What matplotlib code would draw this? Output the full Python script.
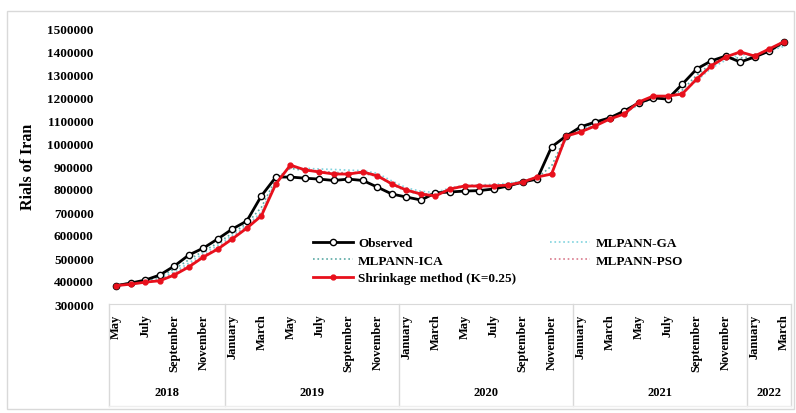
import numpy as np
import matplotlib
matplotlib.use("Agg")
import matplotlib.pyplot as plt
from matplotlib.patches import Rectangle

# Datos (mayo 2018 - marzo 2022)
meses = ["May", "June", "July", "August", "September", "October", "November", "December",
         "January", "February", "March", "April", "May", "June", "July", "August",
         "September", "October", "November", "December",
         "January", "February", "March", "April", "May", "June", "July", "August",
         "September", "October", "November", "December",
         "January", "February", "March", "April", "May", "June", "July", "August",
         "September", "October", "November", "December",
         "January", "February", "March"]
anios = ["2018", "2019", "2020", "2021", "2022"]
meses_por_anio = [8, 12, 12, 12, 3]

observed = [380000, 391000, 404000, 426000, 465000, 513000, 543000, 583000,
            626000, 661000, 770000, 852000, 852000, 847000, 843000, 837000, 843000, 837000, 808000, 778000,
            765000, 752000, 783000, 787000, 791000, 793000, 800000, 813000, 830000, 843000, 983000, 1030000,
            1070000, 1091000, 1109000, 1139000, 1174000, 1196000, 1191000, 1255000, 1322000, 1357000, 1378000, 1352000,
            1374000, 1400000, 1440000]

mlpann_ga = [380000, 388000, 398000, 410000, 440000, 478000, 520000, 555000,
             598000, 640000, 700000, 835000, 895000, 890000, 887000, 885000, 882000, 880000, 868000, 835000,
             805000, 790000, 785000, 805000, 815000, 818000, 820000, 825000, 835000, 850000, 870000, 1020000,
             1060000, 1080000, 1100000, 1130000, 1165000, 1195000, 1205000, 1220000, 1270000, 1325000, 1360000, 1385000,
             1380000, 1400000, 1420000]

mlpann_ica = [382000, 392000, 402000, 418000, 452000, 492000, 530000, 565000,
              608000, 650000, 720000, 845000, 890000, 880000, 875000, 872000, 870000, 868000, 855000, 820000,
              790000, 778000, 780000, 800000, 810000, 812000, 815000, 820000, 832000, 848000, 900000, 1035000,
              1065000, 1085000, 1105000, 1135000, 1170000, 1198000, 1200000, 1230000, 1295000, 1345000, 1370000, 1370000,
              1375000, 1398000, 1430000]

mlpann_pso = [380000, 387000, 397000, 405000, 432000, 468000, 510000, 545000,
              590000, 636000, 690000, 830000, 900000, 885000, 878000, 870000, 868000, 876000, 860000, 820000,
              798000, 780000, 772000, 802000, 815000, 815000, 815000, 819000, 832000, 852000, 868000, 1025000,
              1050000, 1076000, 1104000, 1128000, 1176000, 1202000, 1206000, 1215000, 1280000, 1338000, 1376000, 1392000,
              1380000, 1410000, 1438000]

shrinkage = [380000, 386000, 395000, 401000, 426000, 461000, 504000, 539000,
             583000, 630000, 683000, 822000, 904000, 883000, 874000, 865000, 865000, 874000, 857000, 822000,
             795000, 778000, 770000, 800000, 813000, 813000, 813000, 817000, 830000, 852000, 865000, 1030000,
             1048000, 1074000, 1104000, 1126000, 1178000, 1204000, 1204000, 1213000, 1278000, 1335000, 1374000, 1396000,
             1378000, 1409000, 1440000]

plt.rcParams['font.family'] = ['Liberation Serif', 'DejaVu Serif']
plt.rcParams['font.weight'] = 'bold'

x = np.arange(len(meses))

fig = plt.figure(figsize=(7.96, 4.14), dpi=100)
ax = fig.add_axes([109 / 796, 1 - 305 / 414, 682 / 796, 276 / 414])

# borde gris de la figura
fig.patches.append(Rectangle((7 / 796, 4 / 414), 787 / 796, 398 / 414, transform=fig.transFigure,
                             fill=False, edgecolor='#d9d9d9', lw=1))

ax.plot(x, mlpann_ga, color='#7fd3de', lw=1.2, linestyle=':', label='MLPANN-GA')
ax.plot(x, mlpann_ica, color='#5aa9a4', lw=1.2, linestyle=':', label='MLPANN-ICA')
ax.plot(x, mlpann_pso, color='#d97a8c', lw=1.2, linestyle=':', label='MLPANN-PSO')
ax.plot(x, observed, color='black', lw=2, marker='o', markersize=4.5,
        markerfacecolor='white', markeredgecolor='black', markeredgewidth=1, label='Observed')
ax.plot(x, shrinkage, color='#e8101c', lw=2, marker='o', markersize=3.5,
        markerfacecolor='#e8101c', markeredgecolor='#e8101c', label='Shrinkage method (K=0.25)')

ax.set_xlim(-0.5, len(meses) - 0.5)
ax.set_ylim(300000, 1500000)
ax.set_yticks(np.arange(300000, 1500001, 100000))
ax.set_yticklabels([str(v) for v in range(300000, 1500001, 100000)], fontsize=9.5)
ax.tick_params(axis='y', length=0, pad=11)

# etiquetas de mes (uno si, uno no)
ax.set_xticks(x[::2])
ax.set_xticklabels(meses[::2], rotation=90, fontsize=9, va='top', ha='center')
ax.tick_params(axis='x', length=0, pad=7)

for s in ['top', 'right', 'left']:
    ax.spines[s].set_visible(False)
ax.spines['bottom'].set_color('#d9d9d9')

ax.set_ylabel('Rials of Iran', fontsize=11.5, fontweight='bold', labelpad=8)

# separadores y etiquetas de anio
trans = ax.get_xaxis_transform()
inicio = -0.5
ax.plot([inicio, inicio], [0, -0.37], transform=trans, color='#d9d9d9', lw=1, clip_on=False)
for anio, n in zip(anios, meses_por_anio):
    fin = inicio + n
    ax.plot([fin, fin], [0, -0.37], transform=trans, color='#d9d9d9', lw=1, clip_on=False)
    ax.text((inicio + fin) / 2, -0.32, anio, transform=trans, ha='center', va='center',
            fontsize=9, fontweight='bold')
    inicio = fin
ax.plot([-0.5, len(meses) - 0.5], [-0.37, -0.37], transform=trans, color='#eeeeee', lw=1, clip_on=False)

handles, labels = ax.get_legend_handles_labels()
orden = [3, 1, 4, 0, 2]
ax.legend([handles[i] for i in orden], [labels[i] for i in orden], loc='upper left',
          bbox_to_anchor=(0.282, 0.285), ncol=2, frameon=False, fontsize=9.5,
          handlelength=3.0, columnspacing=2.6, labelspacing=0.4, handletextpad=0.4)

plt.savefig("out.png", dpi=100)
plt.close()
